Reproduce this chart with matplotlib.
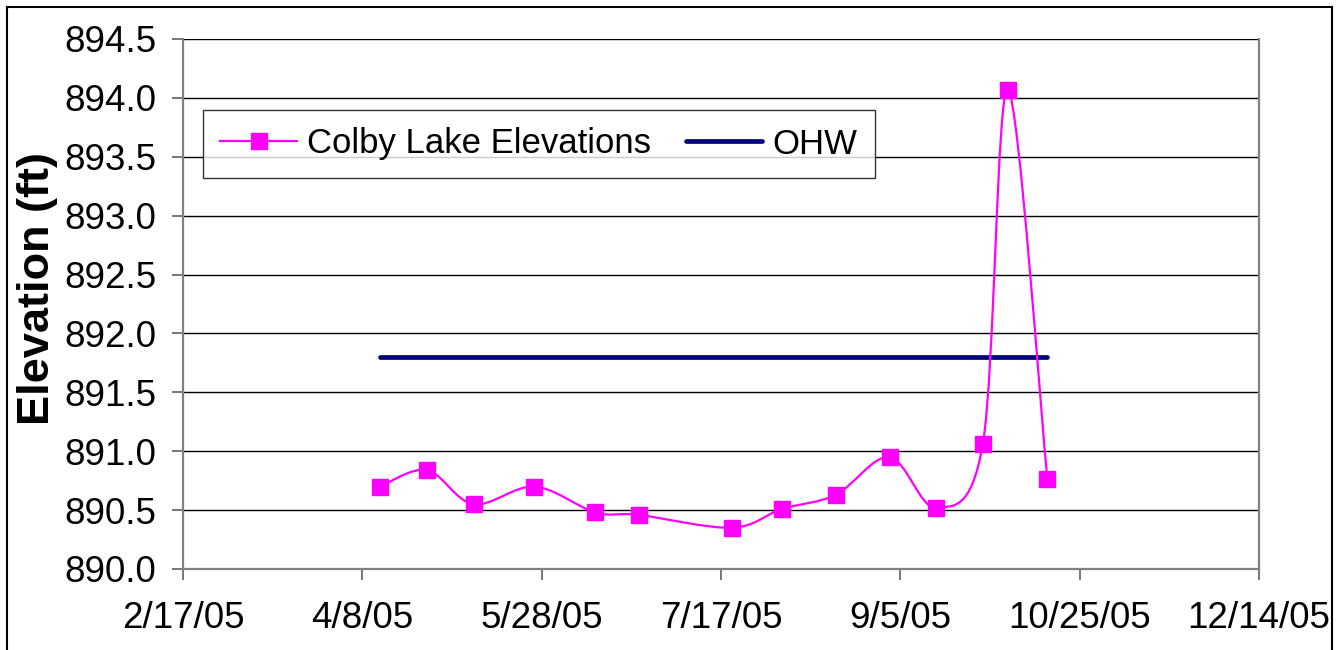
import numpy as np
import matplotlib.pyplot as plt
import matplotlib.dates as mdates
from matplotlib.path import Path
from matplotlib.patches import PathPatch, Rectangle
from datetime import datetime

plt.rcParams['font.family'] = ['Liberation Sans', 'DejaVu Sans']

# Colby Lake readings
dates = ['2005-04-13', '2005-04-26', '2005-05-09', '2005-05-26', '2005-06-12',
         '2005-06-24', '2005-07-20', '2005-08-03', '2005-08-18', '2005-09-02',
         '2005-09-15', '2005-09-28', '2005-10-05', '2005-10-16']
elev = [890.70, 890.84, 890.55, 890.70, 890.48,
        890.46, 890.35, 890.51, 890.63, 890.95,
        890.52, 891.06, 894.07, 890.76]

ohw_dates = ['2005-04-13', '2005-10-16']
ohw = [891.8, 891.8]

xtick_dates = ['2005-02-17', '2005-04-08', '2005-05-28', '2005-07-17',
               '2005-09-05', '2005-10-25', '2005-12-14']
xtick_labels = ['2/17/05', '4/8/05', '5/28/05', '7/17/05',
                '9/5/05', '10/25/05', '12/14/05']
yticks = [890.0, 890.5, 891.0, 891.5, 892.0, 892.5, 893.0, 893.5, 894.0, 894.5]


def to_num(ds):
    return mdates.date2num([datetime.strptime(d, '%Y-%m-%d') for d in ds])


x = to_num(dates)
y = np.array(elev)
xt = to_num(xtick_dates)

fig = plt.figure(figsize=(13.44, 6.5), dpi=100)
ax = fig.add_axes([183/1344, 1-569/650, (1259-183)/1344, (569-39)/650])

ax.set_xlim(xt[0], xt[-1])
ax.set_ylim(890, 894.5)
ax.set_yticks(yticks)
ax.set_yticklabels(['%.1f' % v for v in yticks])
ax.set_xticks(xt)
ax.set_xticklabels(xtick_labels)
ax.yaxis.grid(True, color='black', lw=1.0)
ax.set_axisbelow(True)

for s in ['left', 'bottom', 'right']:
    ax.spines[s].set_color('#808080')
    ax.spines[s].set_linewidth(1.6)
ax.spines['top'].set_visible(False)
ax.tick_params(axis='both', direction='out', length=8, width=1.2,
               color='#606060', labelsize=26.5)
ax.tick_params(axis='y', pad=11)
ax.tick_params(axis='x', pad=15)

ax.set_ylabel('Elevation (ft)', fontsize=32.5, fontweight='bold', va='center')
ax.yaxis.set_label_coords(-0.135, 0.53)

# OHW
ax.plot(to_num(ohw_dates), ohw, color='#000080', lw=3.4,
        solid_capstyle='round', label='OHW', zorder=3)

# smoothed line (Excel style, Catmull-Rom Bezier segments)
P = np.column_stack([x, y])
Pe = np.vstack([P[0], P, P[-1]])
verts = [P[0]]
codes = [Path.MOVETO]
for i in range(len(P) - 1):
    c1 = P[i] + (Pe[i + 2] - Pe[i]) / 6.0
    c2 = P[i + 1] - (Pe[i + 3] - Pe[i + 1]) / 6.0
    verts += [c1, c2, P[i + 1]]
    codes += [Path.CURVE4] * 3
ax.add_patch(PathPatch(Path(verts, codes), fill=False, edgecolor='#FF00FF',
                       lw=1.6, zorder=4))
ax.plot(x, y, ls='none', marker='s', ms=11.5, color='#FF00FF', zorder=5)
h1, = ax.plot([], [], color='#FF00FF', lw=1.6, marker='s', ms=11.5,
              label='Colby Lake Elevations')

leg = ax.legend(handles=[h1, ax.lines[0]], ncol=2, loc='center left',
                bbox_to_anchor=(203/1344, 1-144/650),
                bbox_transform=fig.transFigure, fontsize=25,
                frameon=True, fancybox=False, edgecolor='black',
                handlelength=2.2, handletextpad=0.3, columnspacing=1.0,
                borderpad=0.5, borderaxespad=0, numpoints=1)
leg.get_frame().set_linewidth(1.0)

# outer chart border
fig.patches.append(Rectangle((7/1344, -0.02), (1332-7)/1344, 1-7/650+0.02,
                             transform=fig.transFigure, fill=False,
                             edgecolor='black', lw=1.5))

plt.savefig('out.png', dpi=100)
